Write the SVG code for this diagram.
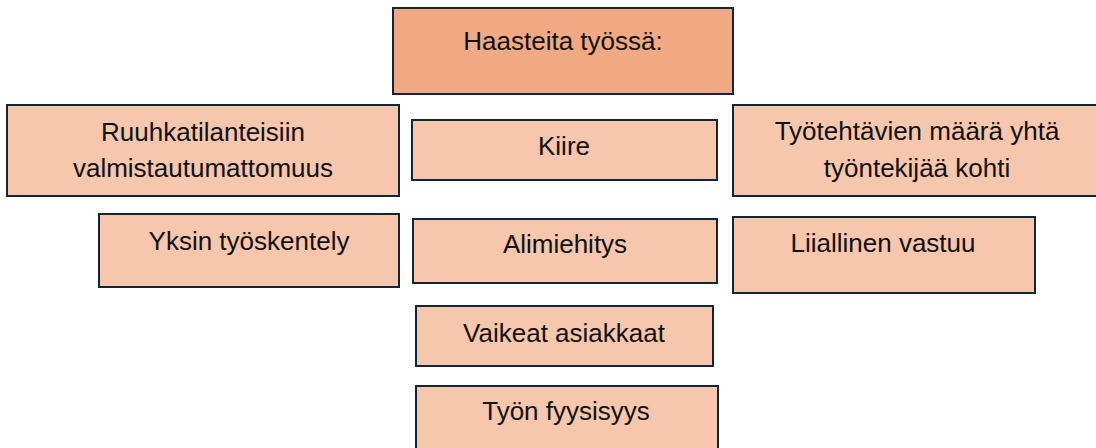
<svg xmlns="http://www.w3.org/2000/svg" width="1096" height="448" viewBox="0 0 1096 448">
<style>
rect.b{fill:#F6C6AD;stroke:#10263A;stroke-width:2}
rect.h{fill:#F1A983;stroke:#10263A;stroke-width:2}
text{font-family:"Liberation Sans",Arial,sans-serif;font-size:26px;fill:#111;text-anchor:middle}
</style>
<rect width="1096" height="448" fill="#fff"/>
<g id="header"><rect class="h" x="393" y="8" width="340" height="86"/><text x="563" y="50">Haasteita työssä:</text></g>
<g id="ruuhka"><rect class="b" x="7" y="105" width="392" height="91"/><text x="203" y="141">Ruuhkatilanteisiin</text><text x="203" y="177">valmistautumattomuus</text></g>
<g id="kiire"><rect class="b" x="412" y="120" width="305" height="60"/><text x="564" y="155">Kiire</text></g>
<g id="tyotehtavat"><rect class="b" x="733" y="105" width="370" height="91"/><text x="917" y="140">Työtehtävien määrä yhtä</text><text x="917" y="177">työntekijää kohti</text></g>
<g id="yksin"><rect class="b" x="99" y="214" width="300" height="73"/><text x="249" y="250">Yksin työskentely</text></g>
<g id="alimiehitys"><rect class="b" x="413" y="219" width="304" height="64"/><text x="565" y="253">Alimiehitys</text></g>
<g id="vastuu"><rect class="b" x="733" y="217" width="302" height="76"/><text x="883" y="252">Liiallinen vastuu</text></g>
<g id="asiakkaat"><rect class="b" x="416" y="306" width="297" height="60"/><text x="564" y="342">Vaikeat asiakkaat</text></g>
<g id="fyysisyys"><rect class="b" x="416" y="386" width="302" height="70"/><text x="566" y="420">Työn fyysisyys</text></g>
<g id="connectors"></g>
</svg>
